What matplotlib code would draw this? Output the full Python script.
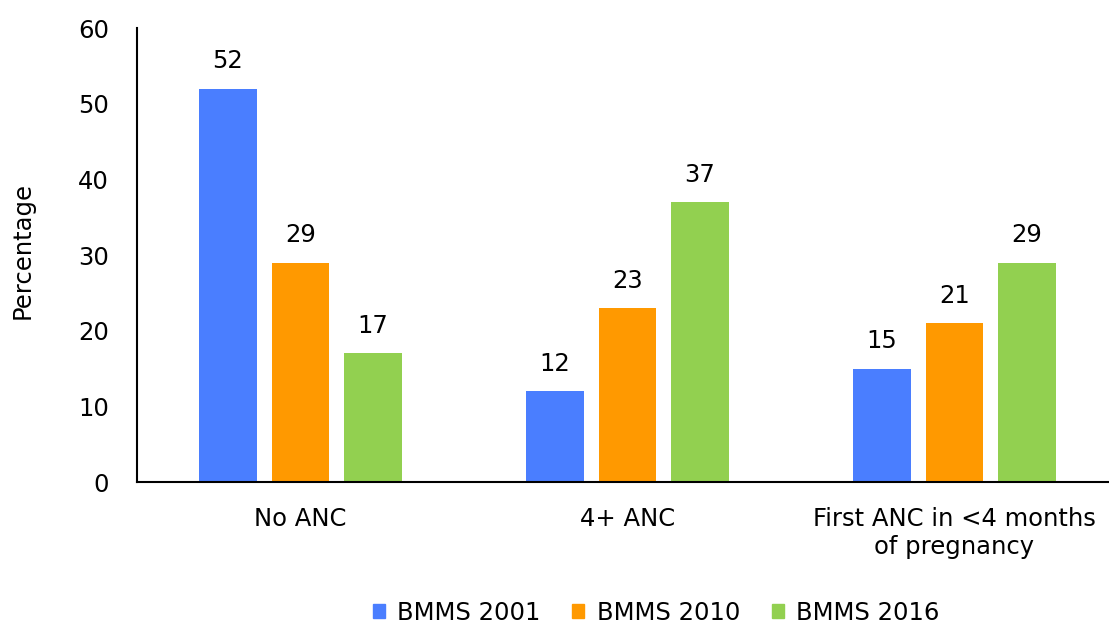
import numpy as np
import matplotlib
matplotlib.use("Agg")
import matplotlib.pyplot as plt
from matplotlib.patches import Patch

categories = ["No ANC", "4+ ANC", "First ANC in <4 months\nof pregnancy"]
series = ["BMMS 2001", "BMMS 2010", "BMMS 2016"]
bmms_2001 = [52, 12, 15]
bmms_2010 = [29, 23, 21]
bmms_2016 = [17, 37, 29]
colours = ["#4A7EFF", "#FF9900", "#92D050"]

plt.rcParams['font.family'] = ['DejaVu Sans']
fs = 17.5

fig = plt.figure(figsize=(11.09, 6.28), dpi=100)
ax = fig.add_axes([137/1109., 1 - 482/628., 981/1109., 454/628.])

x = np.arange(len(categories))
width = 0.177
step = 0.222
for i, (vals, col) in enumerate(zip([bmms_2001, bmms_2010, bmms_2016], colours)):
    pos = x + (i - 1) * step
    ax.bar(pos, vals, width, color=col)
    for p, v in zip(pos, vals):
        ax.text(p, v + 2.0, str(v), ha="center", va="bottom", fontsize=fs)

ax.set_xlim(-0.5, 2.5)
ax.set_ylim(0, 60)
ax.set_yticks(range(0, 61, 10))
ax.set_xticks(x)
ax.set_xticklabels(categories, fontsize=fs)
ax.tick_params(axis="y", length=0, pad=20, labelsize=fs)
ax.tick_params(axis="x", length=0, pad=18)
ax.set_ylabel("Percentage", fontsize=fs)
ax.yaxis.set_label_coords(-0.104, 0.51)

for s in ["top", "right"]:
    ax.spines[s].set_visible(False)
ax.spines["left"].set_linewidth(1.5)
ax.spines["bottom"].set_linewidth(1.5)

handles = [Patch(color=c, label=s) for c, s in zip(colours, series)]
fig.legend(handles=handles, loc="center", bbox_to_anchor=(0.5916, 1 - 613/628.),
           ncol=3, frameon=False, fontsize=fs, handlelength=0.5, handleheight=0.5,
           handletextpad=0.5, columnspacing=1.3)

fig.savefig("out.png", dpi=100)
